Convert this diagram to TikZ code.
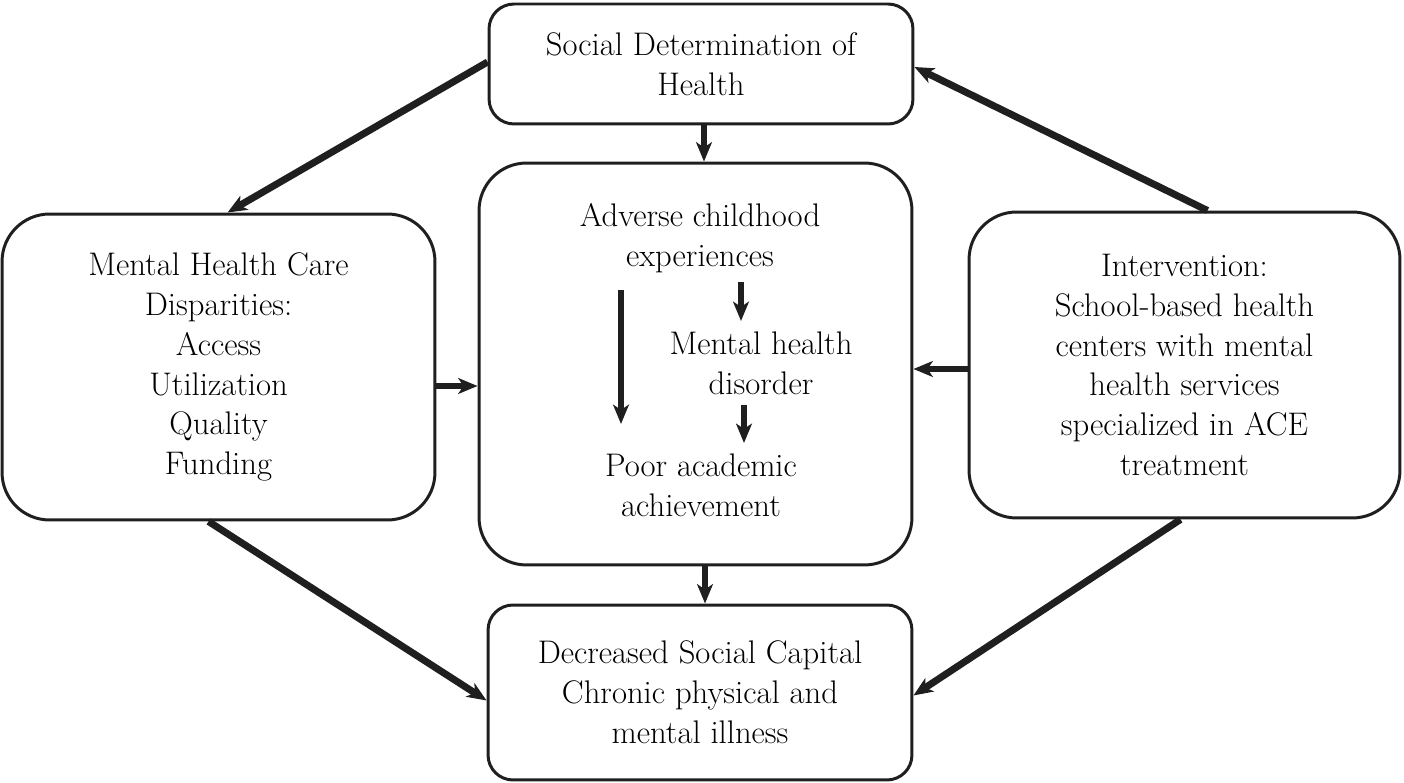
\documentclass[tikz,border=0pt]{standalone}
\usetikzlibrary{arrows.meta,calc}
\begin{document}
\begin{tikzpicture}[x=0.02cm,y=-0.02cm,
  box/.style={draw=black!88,line width=1.7pt,inner sep=0pt,align=center,
    font=\fontsize{18.6}{22.7}\selectfont,text=black},
  smallbox/.style={box,rounded corners=0.5cm},
  bigbox/.style={box,rounded corners=0.95cm},
  txt/.style={inner sep=0pt,align=center,font=\fontsize{18.6}{22.7}\selectfont,text=black},
  arr/.style={draw=black!88,line width=3.6pt,-{Stealth[length=11pt,width=9pt,inset=3pt]}},
  darr/.style={arr,line width=4pt}]
\useasboundingbox (0,0) rectangle (1404,783);
\node[smallbox,minimum width=8.48cm,minimum height=2.4cm] (sdh) at (701,64) {Social Determination of\\Health};
\node[bigbox,minimum width=8.66cm,minimum height=8.04cm] (cb) at (695.5,364) {};
\node[bigbox,minimum width=8.66cm,minimum height=6.12cm] (lb) at (218.5,367) {Mental Health Care\\Disparities:\\Access\\Utilization\\Quality\\Funding};
\node[bigbox,minimum width=8.62cm,minimum height=6.12cm] (rb) at (1184.5,365) {Intervention:\\School-based health\\centers with mental\\health services\\specialized in ACE\\treatment};
\node[smallbox,minimum width=8.48cm,minimum height=3.5cm] (bb) at (700,692.5) {Decreased Social Capital\\Chronic physical and\\mental illness};
% inner texts
\node[txt] (ace) at (700,238) {Adverse childhood\\experiences};
\node[txt] (mhd) at (761,363) {Mental health\\disorder};
\node[txt] (paa) at (701,485) {Poor academic\\achievement};
% inner arrow coordinates
\coordinate (l1) at (621,290);
\coordinate (l2) at (621,424);
\coordinate (s1a) at (741,282);
\coordinate (s1b) at (741,321);
\coordinate (s2a) at (744,405);
\coordinate (s2b) at (744,443);
\draw[arr] (l1) -- (l2);
\draw[arr,line width=3.2pt] (s1a) -- (s1b);
\draw[arr,line width=3.2pt] (s2a) -- (s2b);
% vertical connectors
\draw[arr,line width=3.2pt] (sdh.south -| 704,0) -- (cb.north -| 704,0);
\draw[arr,line width=3.2pt] (cb.south -| 705,0) -- (bb.north -| 705,0);
% horizontal connectors
\draw[arr] (lb.east |- 0,386) -- (cb.west |- 0,386);
\draw[arr] (rb.west |- 0,369) -- (cb.east |- 0,369);
% diagonal connectors
\draw[darr] ($(sdh.west)+(0,-2)$) -- ($(lb.north)+(9,0)$);
\draw[darr] ($(rb.north)+(23,0)$) -- ($(sdh.east)+(0,3)$);
\draw[darr] ($(lb.south)+(-10,0)$) -- ($(bb.west)+(0,8)$);
\draw[darr] ($(rb.south)+(-4,0)$) -- ($(bb.east)+(0,3)$);
\end{tikzpicture}
\end{document}
